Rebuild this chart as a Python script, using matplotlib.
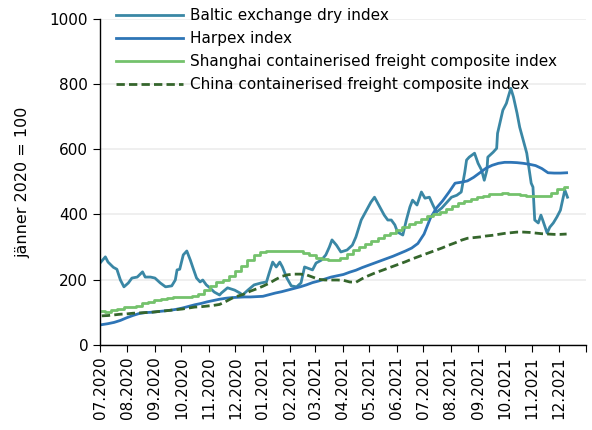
import pandas as pd
import matplotlib.pyplot as plt

# --- data (index, January 2020 = 100) ---
baltic_dates = [
    "2020-07-01", "2020-07-07", "2020-07-10", "2020-07-16", "2020-07-20", "2020-07-24",
    "2020-07-28", "2020-08-02", "2020-08-06", "2020-08-12", "2020-08-18", "2020-08-21",
    "2020-08-27", "2020-09-01", "2020-09-07", "2020-09-13", "2020-09-20", "2020-09-24",
    "2020-09-26", "2020-09-29", "2020-10-03", "2020-10-07", "2020-10-11", "2020-10-14",
    "2020-10-18", "2020-10-22", "2020-10-25", "2020-10-29", "2020-11-02", "2020-11-07",
    "2020-11-13", "2020-11-15", "2020-11-22", "2020-11-30", "2020-12-06", "2020-12-09",
    "2020-12-15", "2020-12-22", "2020-12-30", "2021-01-05", "2021-01-08", "2021-01-12",
    "2021-01-16", "2021-01-20", "2021-01-23", "2021-01-28", "2021-02-02", "2021-02-08",
    "2021-02-13", "2021-02-17", "2021-02-20", "2021-02-26", "2021-03-02", "2021-03-08",
    "2021-03-13", "2021-03-17", "2021-03-20", "2021-03-25", "2021-03-30", "2021-04-06",
    "2021-04-12", "2021-04-16", "2021-04-22", "2021-04-28", "2021-05-03", "2021-05-07",
    "2021-05-10", "2021-05-15", "2021-05-18", "2021-05-22", "2021-05-26", "2021-05-30",
    "2021-06-02", "2021-06-08", "2021-06-12", "2021-06-16", "2021-06-19", "2021-06-24",
    "2021-06-29", "2021-07-03", "2021-07-08", "2021-07-12", "2021-07-16", "2021-07-22",
    "2021-07-28", "2021-08-02", "2021-08-08", "2021-08-13", "2021-08-17", "2021-08-19",
    "2021-08-22", "2021-08-28", "2021-09-01", "2021-09-05", "2021-09-08", "2021-09-11",
    "2021-09-12", "2021-09-18", "2021-09-22", "2021-09-23", "2021-09-29", "2021-10-03",
    "2021-10-05", "2021-10-08", "2021-10-11", "2021-10-15", "2021-10-18", "2021-10-22",
    "2021-10-26", "2021-10-31", "2021-11-02", "2021-11-04", "2021-11-08", "2021-11-11",
    "2021-11-13", "2021-11-18", "2021-11-21", "2021-11-25", "2021-11-29", "2021-12-03",
    "2021-12-05", "2021-12-08", "2021-12-11",
]
baltic = [
    251, 270, 254, 238, 232, 199,
    178, 190, 205, 208, 224, 208,
    208, 205, 190, 178, 181, 199,
    230, 232, 276, 288, 260, 236,
    205, 193, 199, 184, 175, 162,
    153, 159, 175, 168, 159, 153,
    168, 184, 190, 193, 220, 254,
    239, 254, 239, 205, 181, 178,
    190, 239, 236, 230, 251, 260,
    276, 300, 322, 306, 285, 291,
    306, 331, 383, 413, 438, 453,
    438, 413, 398, 383, 383, 368,
    346, 337, 383, 423, 444, 429,
    469, 450, 453, 429, 407, 420,
    438, 453, 459, 469, 530, 567,
    576, 588, 557, 536, 505, 536,
    576, 591, 603, 649, 720, 741,
    760, 787, 760, 711, 668, 628,
    588, 496, 484, 383, 374, 398,
    383, 343, 361, 374, 392, 413,
    438, 475, 453,
]

weekly_start = "2020-07-03"
harpex = [
    62, 65, 69, 75, 83, 90, 96, 99, 100, 102,
    104, 106, 109, 113, 118, 123, 127, 132, 136, 140,
    143, 145, 146, 147, 147, 148, 149, 154, 159, 163,
    168, 173, 178, 184, 191, 196, 202, 208, 212, 216,
    223, 229, 237, 244, 251, 258, 265, 272, 280, 288,
    297, 311, 340, 388, 420, 442, 468, 496, 499, 503,
    514, 528, 542, 551, 557, 560, 560, 559, 557, 554,
    550, 541, 528, 527, 527, 528,
]
shanghai = [
    104, 102, 106, 111, 115, 117, 120, 127, 133, 138,
    142, 145, 146, 147, 148, 150, 157, 168, 181, 192,
    200, 212, 227, 243, 261, 276, 286, 289, 289, 288,
    289, 288, 289, 283, 276, 267, 262, 260, 261, 266,
    280, 292, 300, 308, 318, 328, 336, 344, 353, 362,
    370, 377, 387, 396, 403, 409, 418, 427, 434, 440,
    446, 453, 458, 462, 464, 466, 464, 462, 460, 457,
    456, 456, 458, 465, 478, 484,
]
china = [
    89, 90, 92, 94, 95, 97, 98, 99, 100, 102,
    104, 106, 108, 110, 113, 116, 117, 119, 121, 124,
    133, 143, 150, 156, 165, 172, 180, 189, 200, 210,
    215, 217, 217, 215, 208, 201, 199, 199, 199, 198,
    193, 192, 203, 212, 220, 227, 234, 241, 248, 255,
    263, 270, 277, 284, 291, 298, 306, 313, 321, 327,
    329, 331, 334, 336, 339, 342, 344, 346, 346, 345,
    343, 341, 340, 339, 339, 340,
]

labels = [
    "Baltic exchange dry index",
    "Harpex index",
    "Shanghai containerised freight composite index",
    "China containerised freight composite index",
]
y_ticks = [0, 200, 400, 600, 800, 1000]
month_ticks = pd.date_range("2020-07-01", "2022-01-01", freq="MS")
month_labels = [d.strftime("%m.%Y") for d in month_ticks[:-1]] + [""]

weeks = pd.date_range(weekly_start, periods=len(harpex), freq="7D")
baltic_x = pd.to_datetime(baltic_dates)

plt.rcParams["font.family"] = "DejaVu Sans"
fig = plt.figure(figsize=(5.92, 4.30), dpi=100)
ax = fig.add_axes([0.169, 0.198, 0.821, 0.758])

ax.plot(baltic_x, baltic, color="#3a87a5", linewidth=2.0, label=labels[0])
ax.plot(weeks, harpex, color="#2e75b6", linewidth=2.0, label=labels[1])
ax.plot(weeks, shanghai, color="#74c26c", linewidth=2.0, drawstyle="steps-mid",
        label=labels[2])
ax.plot(weeks, china, color="#35662c", linewidth=2.0, linestyle=(0, (3, 1.5)),
        label=labels[3])

ax.set_ylim(0, 1000)
ax.set_yticks(y_ticks)
ax.set_xlim(month_ticks[0], month_ticks[-1])
ax.set_xticks(month_ticks)
ax.set_xticklabels(month_labels, rotation=90)

ax.tick_params(axis="both", labelsize=11, color="black", direction="out", length=5)
ax.set_ylabel("jänner 2020 = 100", fontsize=11.5, labelpad=14)

ax.grid(axis="y", color="#ececec", linewidth=1.2)
ax.set_axisbelow(True)
for s in ["top", "right"]:
    ax.spines[s].set_visible(False)
for s in ["left", "bottom"]:
    ax.spines[s].set_color("black")
    ax.spines[s].set_linewidth(1.0)

ax.legend(loc="upper left", bbox_to_anchor=(0.02, 1.051), frameon=False,
          fontsize=11, handlelength=4.4, labelspacing=0.52, handletextpad=0.45,
          borderaxespad=0.0)

fig.savefig("out.png", dpi=100)
